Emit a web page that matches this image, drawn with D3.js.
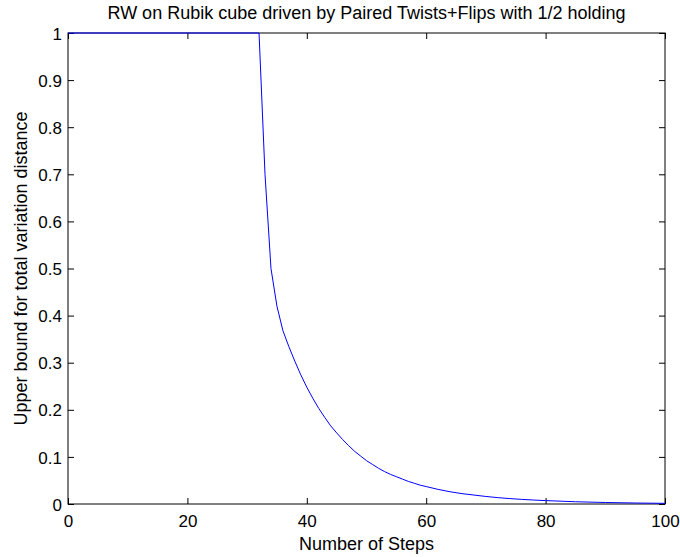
<!DOCTYPE html>
<html>
<head>
<meta charset="utf-8">
<script src="https://d3js.org/d3.v7.min.js"></script>
<style>
  html, body { margin: 0; padding: 0; background: #fff; }
  svg { display: block; }
  text { font-family: "Liberation Sans", Arial, Helvetica, sans-serif; fill: #000; }
</style>
</head>
<body>
<script>
// ---- data ----
const steps = [0, 32, 33, 34, 35, 36, 37, 38, 39, 40, 41, 42, 43, 44, 45, 46, 47, 48, 49, 50,
               51, 52, 53, 54, 55, 56, 57, 58, 59, 60, 62, 64, 66, 68, 70, 72, 74, 76, 78, 80,
               85, 90, 95, 100];
const tvBound = [1, 1, 0.70, 0.50, 0.42, 0.368, 0.334, 0.303, 0.274, 0.248, 0.2245, 0.203, 0.184, 0.166, 0.151, 0.137, 0.124, 0.112, 0.102, 0.092,
                 0.084, 0.076, 0.069, 0.063, 0.058, 0.053, 0.048, 0.044, 0.040, 0.037, 0.031, 0.026, 0.022, 0.019, 0.016, 0.0135, 0.0115, 0.0098, 0.0084, 0.0072,
                 0.0048, 0.0032, 0.0021, 0.0014];
const xTicks = [0, 20, 40, 60, 80, 100];
const yTicks = [0, 0.1, 0.2, 0.3, 0.4, 0.5, 0.6, 0.7, 0.8, 0.9, 1];
const titleText = "RW on Rubik cube driven by Paired Twists+Flips with 1/2 holding";
const xLabel = "Number of Steps";
const yLabel = "Upper bound for total variation distance";

// ---- layout ----
const W = 680, H = 557;
const L = 68, R = 665, T = 33, B = 504;

const svg = d3.select("body").append("svg").attr("width", W).attr("height", H);

const x = d3.scaleLinear().domain([0, 100]).range([L, R]);
const y = d3.scaleLinear().domain([0, 1]).range([B, T]);

const tickLen = 6;
const fs = 17;

// box
svg.append("rect").attr("x", L).attr("y", T).attr("width", R - L).attr("height", B - T)
  .attr("fill", "none").attr("stroke", "#000").attr("stroke-width", 1);

// axes (ticks inward)
const gx = svg.append("g").attr("transform", `translate(0,${B})`)
  .call(d3.axisBottom(x).tickValues(xTicks).tickSizeInner(-tickLen).tickSizeOuter(0).tickFormat(d3.format("d")));
const gxTop = svg.append("g").attr("transform", `translate(0,${T})`)
  .call(d3.axisTop(x).tickValues(xTicks).tickSizeInner(-tickLen).tickSizeOuter(0).tickFormat(""));
const gy = svg.append("g").attr("transform", `translate(${L},0)`)
  .call(d3.axisLeft(y).tickValues(yTicks).tickSizeInner(-tickLen).tickSizeOuter(0).tickFormat(d => d === 0 || d === 1 ? String(d) : d3.format(".1f")(d)));
const gyRight = svg.append("g").attr("transform", `translate(${R},0)`)
  .call(d3.axisRight(y).tickValues(yTicks).tickSizeInner(-tickLen).tickSizeOuter(0).tickFormat(""));

[gx, gxTop, gy, gyRight].forEach(g => {
  g.select(".domain").remove();
  g.selectAll("line").attr("stroke", "#000").attr("stroke-width", 1);
  g.selectAll("text").style("font-size", fs + "px").style("font-family", '"Liberation Sans", Arial, sans-serif');
});
gx.selectAll("text").attr("dy", null).attr("y", 23);
gy.selectAll("text").attr("dy", "0.36em").attr("x", -6);

// line
const line = d3.line().x((d, i) => x(steps[i])).y(d => y(d));
svg.append("path").datum(tvBound).attr("d", line)
  .attr("fill", "none").attr("stroke", "#0000ff").attr("stroke-width", 1);

// title
svg.append("text").attr("x", (L + R) / 2).attr("y", 19).attr("text-anchor", "middle")
  .style("font-size", "18px").text(titleText);

// x label
svg.append("text").attr("x", (L + R) / 2).attr("y", 550).attr("text-anchor", "middle")
  .style("font-size", "18px").text(xLabel);

// y label
svg.append("text").attr("transform", `translate(27,${(T + B) / 2}) rotate(-90)`).attr("text-anchor", "middle")
  .style("font-size", "18px").text(yLabel);
</script>
</body>
</html>
